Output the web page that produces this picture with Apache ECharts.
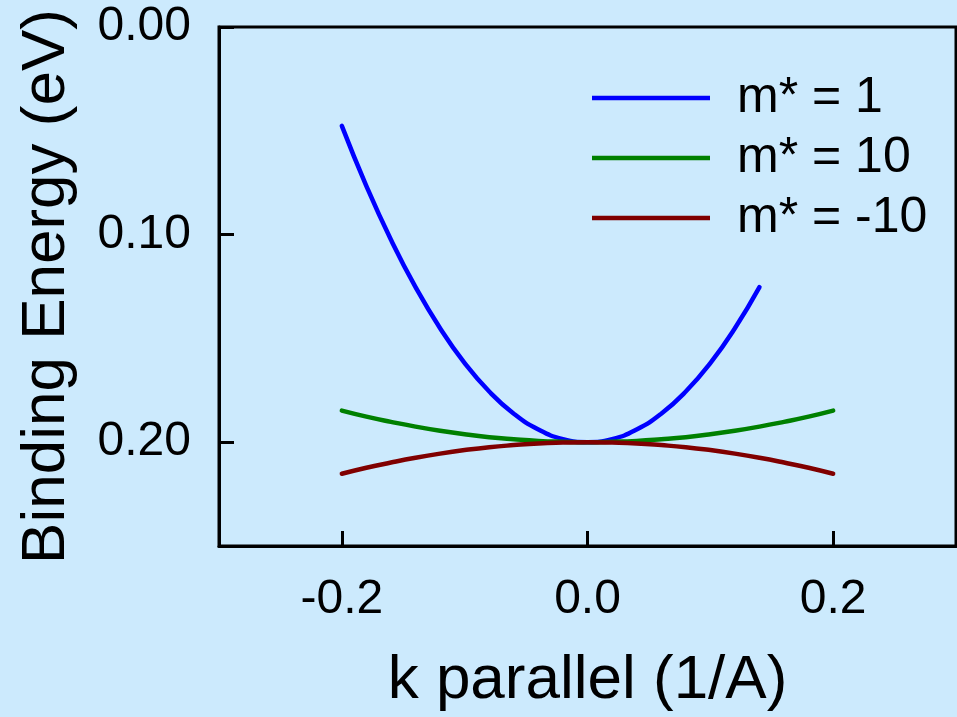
<!DOCTYPE html>
<html>
<head>
<meta charset="utf-8">
<script src="https://cdn.jsdelivr.net/npm/echarts@6/dist/echarts.min.js"></script>
<style>
  html, body { margin: 0; padding: 0; background: #cceafd; }
  #chart { width: 957px; height: 717px; }
</style>
</head>
<body>
<div id="chart"></div>
<script>
// k values (1/A)
const kBlue = [-0.20, -0.18, -0.16, -0.14, -0.12, -0.10, -0.08, -0.06, -0.04, -0.02, 0.00, 0.02, 0.04, 0.06, 0.08, 0.10, 0.12, 0.14];
const eBlue = [0.0476, 0.0766, 0.1025, 0.1253, 0.1451, 0.1619, 0.1756, 0.1863, 0.1939, 0.1985, 0.2000, 0.1985, 0.1939, 0.1863, 0.1756, 0.1619, 0.1451, 0.1253];

const kWide = [-0.20, -0.18, -0.16, -0.14, -0.12, -0.10, -0.08, -0.06, -0.04, -0.02, 0.00, 0.02, 0.04, 0.06, 0.08, 0.10, 0.12, 0.14, 0.16, 0.18, 0.20];
const eGreen = [0.1848, 0.1877, 0.1902, 0.1925, 0.1945, 0.1962, 0.1976, 0.1986, 0.1994, 0.1998, 0.2000, 0.1998, 0.1994, 0.1986, 0.1976, 0.1962, 0.1945, 0.1925, 0.1902, 0.1877, 0.1848];
const eRed = [0.2152, 0.2123, 0.2098, 0.2075, 0.2055, 0.2038, 0.2024, 0.2014, 0.2006, 0.2002, 0.2000, 0.2002, 0.2006, 0.2014, 0.2024, 0.2038, 0.2055, 0.2075, 0.2098, 0.2123, 0.2152];

const seriesNames = ['m* = 1', 'm* = 10', 'm* = -10'];
const seriesColors = ['#0000ff', '#008000', '#800000'];
const xTicks = [-0.2, 0, 0.2];
const yTicks = [0, 0.1, 0.2];

const FONT = '"Liberation Sans", Arial, sans-serif';

const pairs = (ks, es) => ks.map((k, i) => [k, es[i]]);

const chart = echarts.init(document.getElementById('chart'));

const lineSeries = (name, color, data) => ({
  name: name,
  type: 'line',
  data: data,
  smooth: true,
  showSymbol: false,
  symbol: 'none',
  lineStyle: { color: color, width: 4.5, cap: 'round' },
  itemStyle: { color: color },
  animation: false
});

chart.setOption({
  backgroundColor: '#cceafd',
  textStyle: { fontFamily: FONT },
  grid: {
    left: 219,
    right: 1,
    top: 27,
    bottom: 171,
    show: true,
    borderColor: '#000',
    borderWidth: 3,
    backgroundColor: 'transparent'
  },
  legend: {
    orient: 'vertical',
    left: 592,
    top: 68,
    padding: 0,
    itemGap: 0,
    itemWidth: 118,
    itemHeight: 4.5,
    icon: 'rect',
    data: seriesNames,
    textStyle: {
      fontFamily: FONT,
      fontSize: 50,
      color: '#000',
      lineHeight: 60,
      padding: [0, 0, 0, 22]
    }
  },
  xAxis: {
    type: 'value',
    position: 'bottom',
    min: -0.3,
    max: 0.3,
    name: 'k parallel (1/A)',
    nameLocation: 'middle',
    nameGap: 104,
    nameTextStyle: { fontFamily: FONT, fontSize: 62, color: '#000' },
    axisLine: { show: true, onZero: false, lineStyle: { color: '#000', width: 3 } },
    axisTick: { show: true, inside: true, length: 15, customValues: xTicks, lineStyle: { color: '#000', width: 3 } },
    axisLabel: {
      customValues: xTicks,
      margin: 30,
      fontFamily: FONT,
      fontSize: 48,
      color: '#000',
      formatter: v => v.toFixed(1)
    },
    splitLine: { show: false }
  },
  yAxis: {
    type: 'value',
    position: 'left',
    inverse: true,
    min: 0,
    max: 0.25,
    name: 'Binding Energy (eV)',
    nameLocation: 'middle',
    nameGap: 141,
    nameRotate: 90,
    nameTextStyle: { fontFamily: FONT, fontSize: 62, color: '#000' },
    axisLine: { show: true, onZero: false, lineStyle: { color: '#000', width: 3 } },
    axisTick: { show: true, inside: true, length: 15, customValues: yTicks, lineStyle: { color: '#000', width: 3 } },
    axisLabel: {
      customValues: yTicks,
      margin: 28,
      fontFamily: FONT,
      fontSize: 48,
      color: '#000',
      formatter: v => v.toFixed(2)
    },
    splitLine: { show: false }
  },
  series: [
    lineSeries(seriesNames[0], seriesColors[0], pairs(kBlue, eBlue)),
    lineSeries(seriesNames[1], seriesColors[1], pairs(kWide, eGreen)),
    lineSeries(seriesNames[2], seriesColors[2], pairs(kWide, eRed))
  ]
});
</script>
</body>
</html>
